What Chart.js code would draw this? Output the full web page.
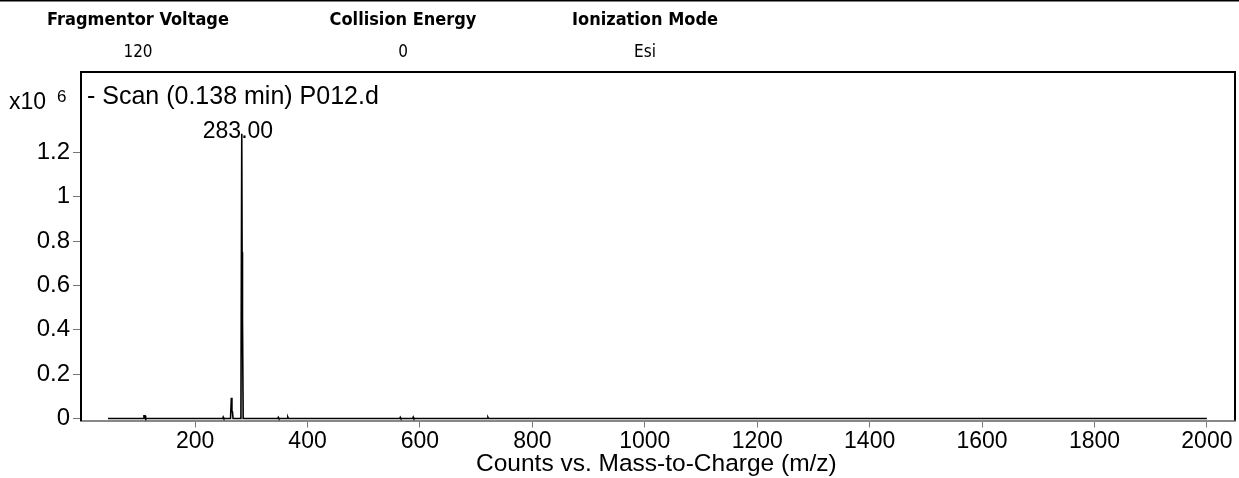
<!DOCTYPE html>
<html>
<head>
<meta charset="utf-8">
<script src="https://cdn.jsdelivr.net/npm/chart.js@4/dist/chart.umd.min.js"></script>
<style>
  html, body { margin: 0; padding: 0; background: #fff; }
  #wrap { position: relative; width: 1239px; height: 478px; }
</style>
</head>
<body>
<div id="wrap"><canvas id="c" width="1239" height="478"></canvas></div>
<script>
// ---- data (intensity in units of x10^6 counts) ----
const mz        = [45, 108, 109, 111, 112, 249, 250, 251, 263, 264.5, 265.5, 266.5, 267.5, 281.5, 283, 283.6, 284.3, 285.5, 347, 348, 349, 364, 365, 366, 564, 565, 566, 587, 588, 589, 720, 721, 722, 2000];
const intensity = [0, 0, 0.012, 0.012, 0, 0, 0.006, 0, 0, 0.093, 0.035, 0.03, 0, 0, 1.284, 0.75, 0.45, 0, 0, 0.005, 0, 0, 0.006, 0, 0, 0.005, 0, 0, 0.006, 0, 0, 0.005, 0, 0];
const yTicks = [0, 0.2, 0.4, 0.6, 0.8, 1, 1.2];
const xTicks = [200, 400, 600, 800, 1000, 1200, 1400, 1600, 1800, 2000];
const headerNames  = ["Fragmentor Voltage", "Collision Energy", "Ionization Mode"];
const headerValues = ["120", "0", "Esi"];
const scanTitle = "- Scan (0.138 min) P012.d";
const peakLabel = "283.00";
const peakMz = 283;
const peakVal = 1.284;
const xTitle = "Counts vs. Mass-to-Charge (m/z)";

const points = mz.map((m, i) => ({ x: m, y: intensity[i] }));
const SANS = '"Liberation Sans", Arial, sans-serif';

const decor = {
  id: 'decor',
  afterDraw(chart) {
    const ctx = chart.ctx;
    const a = chart.chartArea;
    const xs = chart.scales.x, ys = chart.scales.y;
    ctx.save();
    // top rule
    ctx.fillStyle = '#000';
    ctx.fillRect(0, 0, 1239, 1.5);
    // header
    const hx = [138, 403, 645];
    ctx.textAlign = 'center';
    ctx.textBaseline = 'middle';
    headerNames.forEach((n, i) => {
      ctx.font = 'bold 18px "DejaVu Sans Condensed", "DejaVu Sans"';
      ctx.fillText(n, hx[i], 20);
      ctx.font = '17px "DejaVu Sans Condensed", "DejaVu Sans"';
      ctx.fillText(headerValues[i], hx[i], 53);
    });
    // frame top, right
    ctx.strokeStyle = '#000';
    ctx.lineWidth = 2;
    ctx.beginPath();
    ctx.moveTo(a.left, a.top);
    ctx.lineTo(a.right, a.top);
    ctx.lineTo(a.right, a.bottom);
    ctx.stroke();
    // x10^6
    ctx.textAlign = 'left';
    ctx.textBaseline = 'alphabetic';
    ctx.font = '23px ' + SANS;
    ctx.fillText('x10', 9, 109);
    ctx.font = '17px ' + SANS;
    ctx.fillText('6', 57, 102);
    // scan title
    ctx.font = '25px ' + SANS;
    ctx.fillText(scanTitle, 87, 104);
    // peak label (clipped as in the original)
    const px = xs.getPixelForValue(peakMz);
    const py = ys.getPixelForValue(peakVal);
    ctx.save();
    ctx.beginPath();
    ctx.rect(a.left, a.top, 274 - a.left, a.bottom - a.top);
    ctx.clip();
    ctx.textAlign = 'left';
    ctx.font = '23px ' + SANS;
    ctx.fillText(peakLabel, px - 39, py + 4);
    ctx.restore();
    // x title (clipped at right)
    ctx.save();
    ctx.beginPath();
    ctx.rect(0, 440, 839, 38);
    ctx.clip();
    ctx.textAlign = 'left';
    ctx.font = '24.5px ' + SANS;
    ctx.fillText(xTitle, 476, 471);
    ctx.restore();
    ctx.restore();
  }
};

new Chart(document.getElementById('c'), {
  type: 'line',
  data: {
    datasets: [{
      data: points,
      borderColor: '#000',
      borderWidth: 1.6,
      pointRadius: 0,
      tension: 0,
      fill: false
    }]
  },
  options: {
    responsive: false,
    animation: false,
    devicePixelRatio: 1,
    layout: { padding: { top: 72, left: 0, right: 4, bottom: 0 } },
    plugins: { legend: { display: false }, tooltip: { enabled: false } },
    scales: {
      x: {
        type: 'linear',
        min: -3,
        max: 2050,
        afterFit(s) { s.height = 57.5; },
        afterBuildTicks(s) { s.ticks = xTicks.map(v => ({ value: v })); },
        ticks: {
          color: '#000',
          font: { family: SANS, size: 23 },
          padding: 0,
          maxRotation: 0,
          autoSkip: false,
          callback: v => String(v)
        },
        grid: { drawOnChartArea: false, drawTicks: true, tickLength: 7, color: '#777' },
        border: { color: '#888', width: 2 }
      },
      y: {
        type: 'linear',
        min: -0.009,
        max: 1.562,
        afterFit(s) { s.width = 81; },
        afterBuildTicks(s) { s.ticks = yTicks.map(v => ({ value: v })); },
        ticks: {
          color: '#000',
          font: { family: SANS, size: 24 },
          padding: 3,
          autoSkip: false,
          callback: v => String(v)
        },
        grid: { drawOnChartArea: false, drawTicks: true, tickLength: 8, color: '#777' },
        border: { color: '#000', width: 2 }
      }
    }
  },
  plugins: [decor]
});
</script>
</body>
</html>
